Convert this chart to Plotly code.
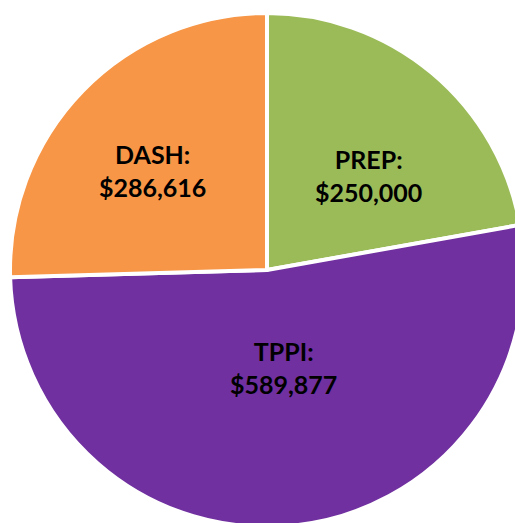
import math
import plotly.graph_objects as go

labels = ["PREP", "TPPI", "DASH"]
values = [250000, 589877, 286616]
colors = ["#9BBB59", "#7030A0", "#F79646"]
texts = [f"<b>{l}:</b><br><b>${v:,}</b>" for l, v in zip(labels, values)]

# label placement style: (angle offset from slice middle in degrees, radius fraction)
label_place = [(6.9, 0.54), (-3.6, 0.383), (-3.0, 0.59)]

W, H = 534, 540
CX, CY, R = 267, 270, 257
fig = go.Figure(go.Pie(
    labels=labels, values=values, textinfo="none",
    sort=False, direction="clockwise", rotation=0,
    marker=dict(colors=colors, line=dict(color="white", width=4)),
    hoverinfo="none",
    domain=dict(x=[(CX - R) / W, (CX + R) / W], y=[(H - CY - R) / H, (H - CY + R) / H]),
))

total = sum(values)
start = 0.0
for t, v, (off, frac) in zip(texts, values, label_place):
    span = 360.0 * v / total
    a = math.radians(start + span / 2 + off)
    start += span
    px = CX + frac * R * math.sin(a)
    py = CY - frac * R * math.cos(a)
    fig.add_annotation(x=px / W, y=1 - py / H, xref="paper", yref="paper",
                       text=t, showarrow=False, align="center",
                       xanchor="center", yanchor="middle",
                       font=dict(family="Lato", size=25, color="black"))

fig.update_layout(width=W, height=H, margin=dict(l=0, r=0, t=0, b=0),
                  showlegend=False, paper_bgcolor="white")
fig.write_html("out.html", post_script="document.body.style.overflow='hidden';document.documentElement.style.overflow='hidden';")
